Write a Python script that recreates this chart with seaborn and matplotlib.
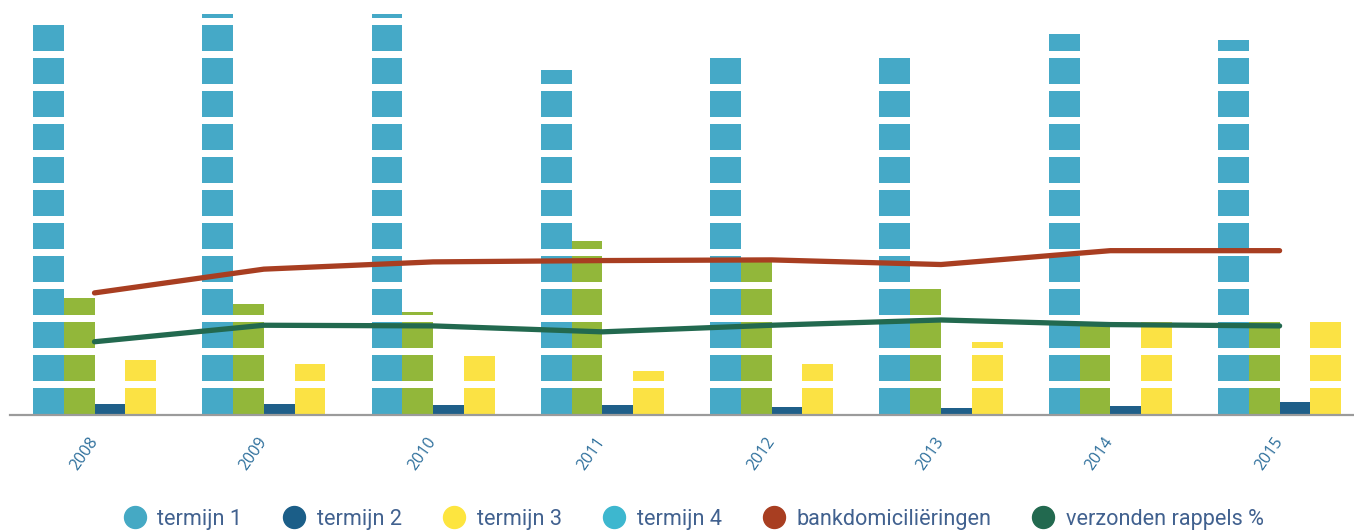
import numpy as np
import pandas as pd
import matplotlib
matplotlib.use("Agg")
import matplotlib.pyplot as plt
from matplotlib.lines import Line2D
import seaborn as sns

# ---- data ----
years = ["2008", "2009", "2010", "2011", "2012", "2013", "2014", "2015"]
termijn_1 = [59.2, 61.5, 61.5, 52.3, 54.3, 54.3, 57.7, 56.8]
termijn_4 = [17.7, 16.8, 15.65, 26.4, 23.5, 19.5, 14.5, 14.5]
termijn_2 = [1.7, 1.7, 1.5, 1.5, 1.25, 1.1, 1.35, 1.95]
termijn_3 = [8.3, 7.7, 8.9, 6.7, 7.7, 11.0, 14.3, 14.6]
bankdomiciliering = [18.5, 22.1, 23.2, 23.4, 23.5, 22.8, 24.9, 24.9]
verzonden_rappels = [11.1, 13.6, 13.5, 12.6, 13.6, 14.4, 13.7, 13.5]

bar_order = ["termijn 1", "termijn 4", "termijn 2", "termijn 3"]
bar_colors = ["#45A9C7", "#92B73A", "#1F5F89", "#FBE244"]

legend_labels = ["termijn 1", "termijn 2", "termijn 3", "termijn 4",
                 "bankdomiciliëringen", "verzonden rappels %"]
legend_colors = ["#45A9C4", "#1B5E88", "#FDE53F", "#3DB7CF", "#A83E21", "#22694F"]

# ---- frame ----
bars = pd.DataFrame({
    "year": years * 4,
    "series": sum([[s] * len(years) for s in bar_order], []),
    "value": termijn_1 + termijn_4 + termijn_2 + termijn_3,
})
lines = pd.DataFrame({"year": years, "bank": bankdomiciliering, "rappel": verzonden_rappels})

sns.set_theme(style="white")
plt.rcParams["font.family"] = ["Open Sans", "DejaVu Sans"]

fig = plt.figure(figsize=(13.54, 5.30), dpi=100)
ax = fig.add_axes([9.85 / 1354, 115 / 530, 1354.4 / 1354, 401 / 530])

sns.barplot(data=bars, x="year", y="value", hue="series", hue_order=bar_order,
            order=years, palette=bar_colors, saturation=1, width=0.727,
            legend=False, ax=ax, zorder=1, linewidth=0)

# white horizontal gaps giving the block look
period = 5.0
gap_h = 7 / 33 * period
first_gap = 27 / 33 * period
ymax = 60.76
k = 0
while first_gap + k * period < ymax:
    ax.axhspan(first_gap + k * period, first_gap + k * period + gap_h,
               color="white", zorder=2, lw=0)
    k += 1

sns.pointplot(data=lines, x="year", y="bank", order=years, color="#A83E21",
              markers="", errorbar=None, ax=ax, linewidth=3.8,
              solid_capstyle="round")
sns.pointplot(data=lines, x="year", y="rappel", order=years, color="#22694F",
              markers="", errorbar=None, ax=ax, linewidth=3.8,
              solid_capstyle="round")
for ln in ax.lines:
    ln.set_zorder(4)
    ln.set_solid_capstyle("round")

ax.set_xlim(-0.5, 7.5)
ax.set_ylim(0, ymax)
ax.set_xlabel("")
ax.set_ylabel("")
ax.set_yticks([])
for s in ["top", "right", "left"]:
    ax.spines[s].set_visible(False)
ax.spines["bottom"].set_color("#9B9B9B")
ax.spines["bottom"].set_linewidth(1.6)
ax.spines["bottom"].set_zorder(5)

ax.tick_params(axis="x", length=0, pad=17, labelsize=11.5, labelcolor="#2C6E9B")
for lab in ax.get_xticklabels():
    lab.set_rotation(55)
    lab.set_ha("right")
    lab.set_va("center")
    lab.set_rotation_mode("anchor")
    lab.set_fontfamily(["Open Sans", "DejaVu Sans"])

handles = [Line2D([0], [0], marker="o", linestyle="none", markersize=15.8,
                  markerfacecolor=c, markeredgecolor=c) for c in legend_colors]
leg = fig.legend(handles, legend_labels, loc="center", ncol=6,
                 bbox_to_anchor=(694 / 1354, 11 / 530), frameon=False,
                 prop={"family": ["Roboto", "DejaVu Sans"], "size": 15.6},
                 handlelength=1.0, handletextpad=0.55, columnspacing=1.9,
                 borderpad=0, borderaxespad=0)
for t in leg.get_texts():
    t.set_color("#41618F")

fig.savefig("out.png", dpi=100, facecolor="white")
